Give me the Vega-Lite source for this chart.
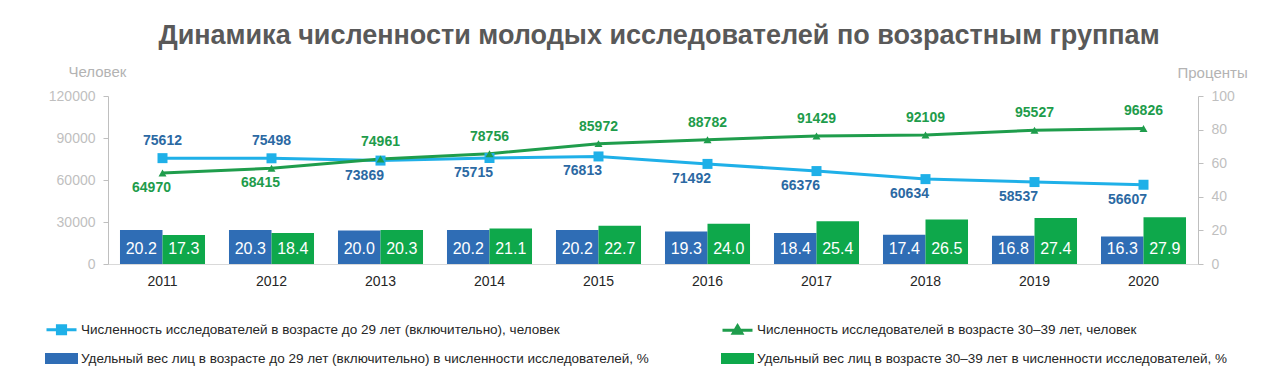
{
  "$schema": "https://vega.github.io/schema/vega-lite/v6.json",
  "width": 1090,
  "height": 168,
  "autosize": {"type": "none"},
  "padding": {"left": 108, "top": 96, "right": 82, "bottom": 112},
  "background": "white",
  "config": {"view": {"stroke": null}, "font": "Liberation Sans"},
  "title": {
    "text": "Динамика численности молодых исследователей по возрастным группам",
    "font": "Liberation Sans", "fontSize": 27, "fontWeight": "bold", "color": "#595959",
    "anchor": "middle", "frame": "group", "offset": 14, "dx": 6
  },
  "data": {"values": [
    {"year": "2011", "n29": 75612, "n3039": 64970, "p29": 20.2, "p3039": 17.3},
    {"year": "2012", "n29": 75498, "n3039": 68415, "p29": 20.3, "p3039": 18.4},
    {"year": "2013", "n29": 73869, "n3039": 74961, "p29": 20.0, "p3039": 20.3},
    {"year": "2014", "n29": 75715, "n3039": 78756, "p29": 20.2, "p3039": 21.1},
    {"year": "2015", "n29": 76813, "n3039": 85972, "p29": 20.2, "p3039": 22.7},
    {"year": "2016", "n29": 71492, "n3039": 88782, "p29": 19.3, "p3039": 24.0},
    {"year": "2017", "n29": 66376, "n3039": 91429, "p29": 18.4, "p3039": 25.4},
    {"year": "2018", "n29": 60634, "n3039": 92109, "p29": 17.4, "p3039": 26.5},
    {"year": "2019", "n29": 58537, "n3039": 95527, "p29": 16.8, "p3039": 27.4},
    {"year": "2020", "n29": 56607, "n3039": 96826, "p29": 16.3, "p3039": 27.9}
  ]},
  "encoding": {
    "x": {
      "field": "year", "type": "ordinal",
      "scale": {"paddingInner": 0.22, "paddingOuter": 0.11},
      "axis": {"title": null, "labelAngle": 0, "labelColor": "#262626", "labelFontSize": 14,
               "labelFont": "Liberation Sans", "ticks": false, "domainColor": "#d9d9d9", "labelPadding": 10}
    }
  },
  "layer": [
    {
      "transform": [{"fold": ["p29", "p3039"], "as": ["s", "pct"]}],
      "layer": [
        {
          "mark": {"type": "bar"},
          "encoding": {
            "xOffset": {"field": "s", "type": "nominal", "scale": {"paddingInner": 0, "paddingOuter": 0}},
            "y": {"field": "pct", "type": "quantitative", "scale": {"domain": [0, 100], "nice": false},
                  "axis": {"orient": "right", "values": [0, 20, 40, 60, 80, 100], "grid": false, "labelOverlap": false,
                           "domainColor": "#bfbfbf", "tickColor": "#bfbfbf", "tickSize": 5,
                           "labelColor": "#bfbfbf", "labelFontSize": 14, "labelFont": "Liberation Sans", "labelPadding": 8,
                           "title": "Проценты", "titleAngle": 0, "titleAlign": "left", "titleBaseline": "middle",
                           "titleX": -21, "titleY": -24, "titleFontWeight": "normal", "titleColor": "#b3b3b3",
                           "titleFontSize": 15, "titleFont": "Liberation Sans"}},
            "color": {
              "field": "s", "type": "nominal",
              "scale": {"domain": ["n29", "n3039", "p29", "p3039"], "range": ["#1fb0e8", "#1f9d4c", "#2f6db5", "#0ea84b"]},
              "legend": {
                "orient": "none", "legendX": -60, "legendY": 220, "direction": "horizontal", "columns": 2,
                "columnPadding": 63, "rowPadding": 5, "padding": 0, "title": null,
                "labelFont": "Liberation Sans", "labelFontSize": 13.5, "labelColor": "#262626", "labelLimit": 700,
                "symbolSize": 576, "labelOffset": 6,
                "labelExpr": "datum.value === 'n29' ? 'Численность исследователей  в возрасте до 29 лет (включительно), человек' : datum.value === 'n3039' ? 'Численность исследователей  в возрасте 30–39 лет, человек' : datum.value === 'p29' ? 'Удельный вес лиц в возрасте до 29 лет (включительно) в численности  исследователей, %' : 'Удельный вес лиц в возрасте 30–39 лет в численности  исследователей, %'",
                "encode": {"symbols": {"update": {
                  "shape": [
                    {"test": "datum.value === 'n29'", "value": "M-1.25,0H1.25M-0.34,-0.34H0.34V0.34H-0.34Z"},
                    {"test": "datum.value === 'n3039'", "value": "M-1.25,0H1.25M0,-0.36L0.36,0.26H-0.36Z"},
                    {"value": "M-1.25,-0.33H1.25V0.33H-1.25Z"}
                  ],
                  "fill": [
                    {"test": "datum.value === 'n29'", "value": "#1fb0e8"},
                    {"test": "datum.value === 'n3039'", "value": "#1f9d4c"},
                    {"test": "datum.value === 'p29'", "value": "#2f6db5"},
                    {"value": "#0ea84b"}
                  ],
                  "stroke": [
                    {"test": "datum.value === 'n29'", "value": "#1fb0e8"},
                    {"test": "datum.value === 'n3039'", "value": "#1f9d4c"},
                    {"value": "transparent"}
                  ],
                  "strokeWidth": {"value": 3},
                  "opacity": {"value": 1}
                }}}
              }
            }
          }
        },
        {
          "mark": {"type": "text", "color": "white", "fontSize": 16, "font": "Liberation Sans", "baseline": "middle"},
          "encoding": {
            "xOffset": {"field": "s", "type": "nominal", "scale": {"paddingInner": 0, "paddingOuter": 0}},
            "y": {"datum": 9, "type": "quantitative",
                  "axis": {"orient": "right", "values": [0, 20, 40, 60, 80, 100], "grid": false, "labelOverlap": false,
                           "domainColor": "#bfbfbf", "tickColor": "#bfbfbf", "tickSize": 5,
                           "labelColor": "#bfbfbf", "labelFontSize": 14, "labelFont": "Liberation Sans", "labelPadding": 8,
                           "title": "Проценты", "titleAngle": 0, "titleAlign": "left", "titleBaseline": "middle",
                           "titleX": -21, "titleY": -24, "titleFontWeight": "normal", "titleColor": "#b3b3b3",
                           "titleFontSize": 15, "titleFont": "Liberation Sans"}},
            "text": {"field": "pct", "type": "quantitative", "format": ".1f"}
          }
        }
      ]
    },
    {
      "layer": [
        {
          "transform": [{"fold": ["n29", "n3039"], "as": ["s", "n"]}],
          "mark": {"type": "line", "strokeWidth": 3},
          "encoding": {
            "y": {"field": "n", "type": "quantitative", "scale": {"domain": [0, 120000]},
                  "axis": {"orient": "left", "values": [0, 30000, 60000, 90000, 120000], "format": "d", "grid": false, "labelOverlap": false,
                           "domainColor": "#bfbfbf", "tickColor": "#bfbfbf", "tickSize": 5,
                           "labelColor": "#bfbfbf", "labelFontSize": 14, "labelFont": "Liberation Sans", "labelPadding": 8,
                           "title": "Человек", "titleAngle": 0, "titleAlign": "left", "titleBaseline": "middle",
                           "titleX": -40, "titleY": -25, "titleFontWeight": "normal", "titleColor": "#b3b3b3",
                           "titleFontSize": 15, "titleFont": "Liberation Sans"}},
            "color": {"field": "s", "type": "nominal"}
          }
        },
        {
          "transform": [{"fold": ["n29", "n3039"], "as": ["s", "n"]}],
          "mark": {"type": "point", "filled": true, "opacity": 1},
          "encoding": {
            "y": {"field": "n", "type": "quantitative"},
            "color": {"field": "s", "type": "nominal"},
            "shape": {"field": "s", "type": "nominal", "scale": {"domain": ["n29", "n3039"], "range": ["square", "triangle-up"]}, "legend": null},
            "size": {"field": "s", "type": "nominal", "scale": {"domain": ["n29", "n3039"], "range": [100, 64]}, "legend": null}
          }
        },
        {
          "transform": [{"filter": "datum.n29 > datum.n3039"}],
          "mark": {"type": "text", "font": "Liberation Sans", "fontWeight": "bold", "fontSize": 14, "color": "#2b69a3", "baseline": "middle", "dy": -17},
          "encoding": {"y": {"field": "n29", "type": "quantitative"}, "text": {"field": "n29", "type": "quantitative", "format": "d"}}
        },
        {
          "transform": [{"filter": "datum.n29 <= datum.n3039"}],
          "mark": {"type": "text", "font": "Liberation Sans", "fontWeight": "bold", "fontSize": 14, "color": "#2b69a3", "baseline": "middle", "dy": 15, "dx": -16},
          "encoding": {"y": {"field": "n29", "type": "quantitative"}, "text": {"field": "n29", "type": "quantitative", "format": "d"}}
        },
        {
          "transform": [{"filter": "datum.n3039 > datum.n29"}],
          "mark": {"type": "text", "font": "Liberation Sans", "fontWeight": "bold", "fontSize": 14, "color": "#1e9c4b", "baseline": "middle", "dy": -17},
          "encoding": {"y": {"field": "n3039", "type": "quantitative"}, "text": {"field": "n3039", "type": "quantitative", "format": "d"}}
        },
        {
          "transform": [{"filter": "datum.n3039 <= datum.n29"}],
          "mark": {"type": "text", "font": "Liberation Sans", "fontWeight": "bold", "fontSize": 14, "color": "#1e9c4b", "baseline": "middle", "dy": 15, "dx": -11},
          "encoding": {"y": {"field": "n3039", "type": "quantitative"}, "text": {"field": "n3039", "type": "quantitative", "format": "d"}}
        }
      ]
    }
  ],
  "resolve": {"scale": {"y": "independent"}}
}
